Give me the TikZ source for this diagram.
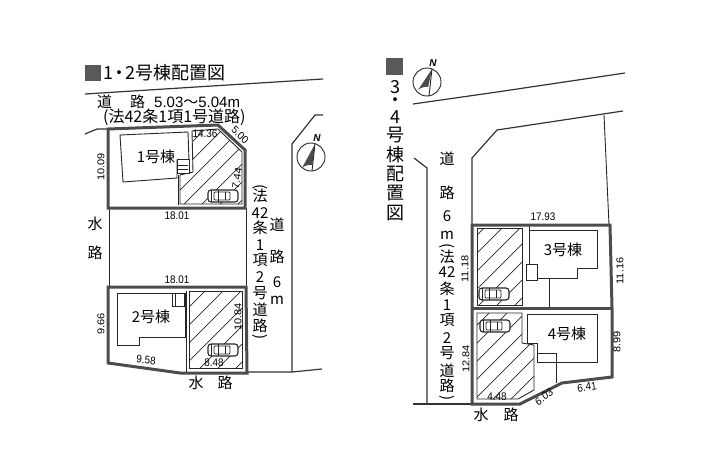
\documentclass[tikz,border=0pt]{standalone}
\usepackage{fontspec}
\setmainfont{Noto Sans CJK JP}
\newfontfamily\numfont{Liberation Sans}
\tikzset{
    boundary/.style={draw=black!70, line width=3pt, line join=miter},
    thinline/.style={draw=black!85, line width=0.9pt},
    roadline/.style={draw=black!80, line width=1.2pt},
    hatchline/.style={draw=black!85, line width=0.7pt},
    dimtext/.style={font=\numfont\fontsize{11}{11}\selectfont, inner sep=0pt, xscale=0.9},
    kanji/.style={font=\fontsize{15}{15}\selectfont, inner sep=0pt},
    hugekanji/.style={font=\fontsize{18}{18}\selectfont, inner sep=0pt},
    housetext/.style={font=\fontsize{15}{15}\selectfont, inner sep=0pt}
}
\newcommand{\hatchfill}[1]{
    \begin{scope}
        \clip #1;
        \foreach \d in {100,118,...,1200}
            \draw[hatchline] (\d,0)--({\d-471},471);
    \end{scope}
    \draw[thinline] #1;
}
\newcommand{\parkedcar}[2]{
    \begin{scope}[shift={(#1,#2)}]
        \draw[black!85, line width=1.1pt, fill=white, rounded corners=3pt] (0,0) rectangle (30,12);
        \draw[thinline, rounded corners=1pt] (6,2) rectangle (22,10);
        \draw[thinline] (3,0)--(3,12) (10,0)--(10,12) (17,2)--(17,10);
    \end{scope}
}
\newcommand{\compassmark}[5]{
    \begin{scope}[shift={(#1,#2)}]
        \draw[thinline] (0,0) circle (14);
        \fill[black!70] (#3,-13)--(-9,#4) arc[start angle=230, end angle=275, radius=14]--cycle;
        \draw[thinline] (#3,-13)--(#5,14);
    \end{scope}
}
\begin{document}
\begin{tikzpicture}[x=1pt,y=-1pt]
    \useasboundingbox (0,0) rectangle (711,471);
    % left sheet
    \fill[black!65] (85,65) rectangle (101,81);
    \node[hugekanji, anchor=west] (titleA) at (103,73) {1\hspace{-3pt}・\hspace{-3pt}2号棟配置図};
    \draw[roadline] (85,94)--(323,79);
    \node[kanji, anchor=west] (roadA) at (97,102) {道\hspace{18pt}路\hspace{9pt}{\numfont 5.03}〜{\numfont 5.04m}};
    \node[kanji, anchor=west, font=\fontsize{16}{16}\selectfont] (roadB) at (103,117) {(法42条1項1号道路)};
    \draw[roadline] (85,134)--(97,129)--(108,129);
    \draw[roadline] (323,115)--(315,115)--(292,144)--(292,372);
    \draw[roadline] (247,372)--(292,372)--(322,369);
    \draw[thinline] (109,208)--(109,286);
    \draw[thinline] (246,208)--(246,286);
    \compassmark{311}{157}{4}{11}{1}
    \node[font=\numfont\bfseries\itshape\fontsize{10}{10}\selectfont, inner sep=0pt] (northA) at (317,138) {N};
    % lot 1
    \hatchfill{(192,131)--(218,129)--(242,152)--(242,204)--(180,204)--(180,175)--(193,172)--cycle}
    \draw[thinline, fill=white] (120,135)--(188,132)--(189,160)--(177,160)--(177,178)--(123,182)--cycle;
    \draw[thinline, fill=white] (177,159) rectangle (189,173);
    \draw[thinline] (178,165)--(188,165) (178,169)--(188,169);
    \draw[thinline] (178,175)--(178,205);
    \parkedcar{208}{190}
    \draw[boundary] (108,129)--(218,125)--(245,150)--(245,208)--(108,208)--cycle;
    \node[housetext] (houseA) at (156,157) {1号棟};
    \node[dimtext] (dimA) at (205,134) {14.36};
    \node[dimtext, rotate=-45] (dimB) at (240,135) {5.00};
    \node[dimtext, rotate=80] (dimC) at (237,178) {7.44};
    \node[dimtext, rotate=90] (dimD) at (101,167) {10.09};
    \node[dimtext] (dimE) at (177,216) {18.01};
    \node[dimtext] (dimF) at (177,280) {18.01};
    \node[kanji] (waterA) at (95,224) {水};
    \node[kanji] (waterB) at (95,253) {路};
    % lot 2
    \hatchfill{(189,291)--(242,291)--(242,368)--(189,368)--cycle}
    \draw[thinline] (117,293)--(185,293)--(185,337)--(139,337)--(139,345)--(117,345)--cycle;
    \draw[thinline] (172,293) rectangle (184,306);
    \draw[thinline] (175,293)--(175,306);
    \draw[thinline] (186,291)--(186,373);
    \parkedcar{208}{344}
    \draw[boundary] (108,287)--(246,287)--(247,373)--(180,373)--(108,363)--cycle;
    \node[housetext] (houseB) at (151,317) {2号棟};
    \node[dimtext, rotate=90] (dimG) at (101,324) {9.66};
    \node[dimtext, rotate=-6] (dimH) at (146,360) {9.58};
    \node[dimtext, rotate=90] (dimI) at (238,317) {10.84};
    \node[dimtext] (dimJ) at (214,363) {8.48};
    \node[kanji] (waterC) at (196,383) {水};
    \node[kanji] (waterD) at (225,383) {路};
    % side road of the left sheet
    \node[kanji, rotate=-90] (parenA) at (260,187) {(};
    \foreach \t/\y in {法/196,42/213,条/228,1/245,項/260,2/277,号/293,道/310,路/326}
        \node[kanji] (sideA\y) at (260,\y) {\t};
    \node[kanji, rotate=-90] (parenB) at (260,337) {)};
    \foreach \t/\y in {道/225,路/257,6/282,m/300}
        \node[kanji] (sideB\y) at (277,\y) {\t};
    % right sheet
    \fill[black!65] (386,58) rectangle (403,75);
    \foreach \t/\y in {3/87,・/102,4/117,号/135,棟/155,配/174,置/193,図/213}
        \node[hugekanji] (titleB\y) at (395,\y) {\t};
    \compassmark{427}{82}{5}{8}{2}
    \node[font=\numfont\bfseries\itshape\fontsize{10}{10}\selectfont, inner sep=0pt] (northB) at (433,63) {N};
    \draw[roadline] (413,104)--(497,92)--(625,73);
    \draw[roadline] (623,111)--(497,130)--(472,158)--(472,225);
    \draw[thinline] (604,115)--(609,225);
    \draw[roadline] (414,158)--(427,168)--(427,404);
    \draw[roadline] (413,404)--(472,404);
    \foreach \t/\y in {道/159,路/193,6/216,m/235,法/257,42/272,条/289,1/305,項/320,2/338,号/353,道/371,路/386}
        \node[kanji] (sideC\y) at (447,\y) {\t};
    \node[kanji, rotate=-90] (parenC) at (447,246) {(};
    \node[kanji, rotate=-90] (parenD) at (447,398) {)};
    % lot 3
    \hatchfill{(477,228)--(522,228)--(522,305)--(477,305)--cycle}
    \draw[thinline] (526,264)--(529,264)--(529,230)--(597,230)--(597,268)--(577,268)--(577,278)--(537,278);
    \draw[thinline] (526,264) rectangle (537,280);
    \draw[thinline] (529,225)--(529,230) (549,278)--(549,308);
    \parkedcar{479}{288}
    % lot 4
    \hatchfill{(477,313)--(522,313)--(522,343)--(534,345)--(534,390)--(518,399)--(477,399)--cycle}
    \draw[thinline] (527,343)--(527,314)--(597,314)--(597,362)--(556,362)--(556,353)--(537,353)--(537,343)--cycle;
    \draw[thinline] (537,353)--(537,362)--(556,362)--(556,383);
    \parkedcar{480}{320}
    \draw[boundary] (472,308)--(612,308);
    \draw[boundary] (472,225)--(610,225)--(612,308)--(612,377)--(562,383)--(520,404)--(472,404)--cycle;
    \node[housetext] (houseC) at (563,250) {3号棟};
    \node[housetext] (houseD) at (567,334) {4号棟};
    \node[dimtext] (dimK) at (543,217) {17.93};
    \node[dimtext, rotate=90] (dimL) at (465,269) {11.18};
    \node[dimtext, rotate=90] (dimM) at (620,271) {11.16};
    \node[dimtext, rotate=90] (dimN) at (466,359) {12.84};
    \node[dimtext, rotate=90] (dimO) at (617,342) {8.99};
    \node[dimtext] (dimP) at (497,397) {4.48};
    \node[dimtext, rotate=35] (dimQ) at (544,397) {6.03};
    \node[dimtext, rotate=8] (dimR) at (587,387) {6.41};
    \node[kanji] (waterE) at (481,415) {水};
    \node[kanji] (waterF) at (511,415) {路};
\end{tikzpicture}
\end{document}
